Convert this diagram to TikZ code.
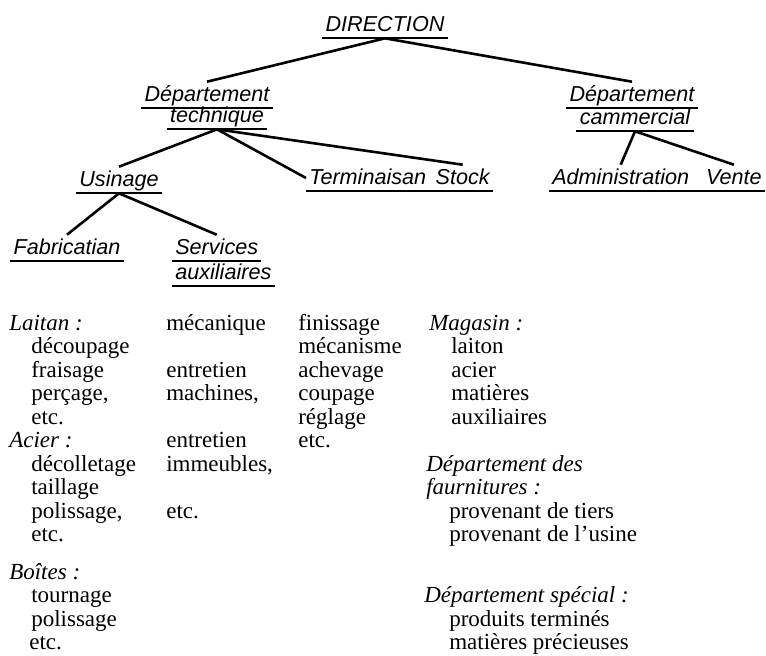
\documentclass[tikz,border=0pt]{standalone}
\usepackage{fontspec}
\setmainfont{Liberation Serif}
\newfontfamily\treefont{Liberation Sans}

\begin{document}
\begin{tikzpicture}[
    x=0.5pt, y=-0.5pt,
    line width=1.3pt,
    unit/.style={font=\treefont\itshape\fontsize{10.8}{12}\selectfont,
        anchor=base, inner xsep=1pt, inner ysep=1pt,
        text height=8pt, text depth=2pt},
    item/.style={font=\fontsize{11.5}{12}\selectfont,
        anchor=base west, inner sep=0pt}
]

\useasboundingbox (0,0) rectangle (766,655);

\def\ytop{330}
\def\rs{23.5}
\def\gap{14}

% Tree
\node[unit] (dir) at (385,31) {DIRECTION};
\node[unit] (tech1) at (207,101) {Département};
\node[unit] (tech2) at (217,122) {technique};
\node[unit] (comm1) at (632,101) {Département};
\node[unit] (comm2) at (635,124) {cammercial};
\node[unit] (usin) at (119,186) {Usinage};
\node[unit, anchor=base west] (term) at (306,184) {Terminaisan};
\node[unit, anchor=base east] (stock) at (493,184) {Stock};
\node[unit, anchor=base west] (admin) at (549,184) {Administration};
\node[unit, anchor=base east] (vente) at (765,184) {Vente};
\node[unit] (fab) at (67,254) {Fabricatian};
\node[unit, anchor=base west] (serv1) at (172,254) {Services};
\node[unit, anchor=base west] (serv2) at (172,279) {auxiliaires};

% Underlines
\foreach \n in {dir,tech1,tech2,comm1,comm2,usin,fab,serv1,serv2}
    \draw[line width=1.1pt] (\n.south west) -- (\n.south east);
\draw[line width=1.1pt] (term.south west) -- (stock.south east);
\draw[line width=1.1pt] (admin.south west) -- (vente.south east);

% Branches
\draw (dir.south) -- (tech1.north);
\draw (dir.south) -- (comm1.north);
\draw (tech2.south) -- (usin.north);
\draw (tech2.south) -- (term.west);
\draw (tech2.south) -- (stock.north);
\draw (comm2.south) -- (admin.north);
\draw (comm2.south) -- (vente.north);
\draw (usin.south) -- (fab.north);
\draw (usin.south) -- (serv1.north);

% Lists (x / row / text)
\foreach \x/\r/\t [count=\k] in {
    8/0/{\textit{Laitan :}}, 30/1/découpage, 30/2/fraisage,
    30/3/{perçage,}, 30/4/etc., 8/5/{\textit{Acier :}},
    30/6/décolletage, 30/7/taillage, 30/8/{polissage,}, 30/9/etc.,
    8/10/{\textit{Boîtes :}}, 30/11/tournage, 30/12/polissage, 28/13/etc.}
{
    \pgfmathsetmacro\yy{\ytop+\r*\rs+(\r>9)*\gap}
    \node[item] (fab\k) at (\x,\yy) {\t};
}
\foreach \r/\t [count=\k] in {
    0/mécanique, 2/entretien, 3/{machines,},
    5/entretien, 6/{immeubles,}, 8/etc.}
{
    \pgfmathsetmacro\yy{\ytop+\r*\rs}
    \node[item] (serv\k) at (165,\yy) {\t};
}
\foreach \r/\t [count=\k] in {
    0/finissage, 1/mécanisme, 2/achevage,
    3/coupage, 4/réglage, 5/etc.}
{
    \pgfmathsetmacro\yy{\ytop+\r*\rs}
    \node[item] (term\k) at (297,\yy) {\t};
}
\foreach \x/\r/\t [count=\k] in {
    428/0/{\textit{Magasin :}}, 450/1/laiton, 450/2/acier,
    450/3/matières, 450/4/auxiliaires,
    425/6/{\textit{Département des}}, 425/7/{\textit{faurnitures :}},
    448/8/provenant de tiers, 448/9/provenant de l’usine,
    423/11/{\textit{Département spécial :}},
    448/12/produits terminés, 448/13/matières précieuses}
{
    \pgfmathsetmacro\yy{\ytop+\r*\rs+(\r>9)*\gap}
    \node[item] (stock\k) at (\x,\yy) {\t};
}

\end{tikzpicture}
\end{document}
